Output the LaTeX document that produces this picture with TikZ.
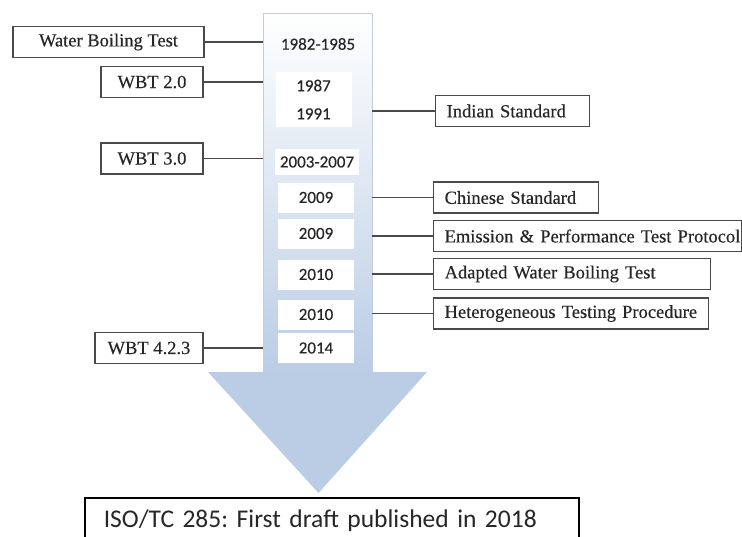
\documentclass[tikz,border=0pt]{standalone}
\usepackage{fontspec}
\setmainfont{Liberation Serif}
\newfontfamily\tnr[FakeBold=0.4]{Liberation Serif}
\newfontfamily\carlito{Carlito}
\newfontfamily\carlitoyr[FakeBold=0.3]{Carlito}
\definecolor{arrowblue}{HTML}{BACDE5}
\definecolor{edgegray}{HTML}{C3CEDC}
\definecolor{linegray}{HTML}{4A4A4A}
\begin{document}
\frenchspacing
\begin{tikzpicture}[x=1pt, y=-1pt,
		std/.style={draw=linegray, line width=1.3pt, font=\tnr\fontsize{18.5}{20}\selectfont, minimum height=31pt, inner sep=0pt, text=black!85},
		stdl/.style={std, anchor=west, align=left, inner xsep=11pt},
		year/.style={fill=white, minimum width=76pt, minimum height=30pt, inner sep=0pt, font=\carlitoyr\fontsize{17}{28}\selectfont, text=black!85},
		link/.style={draw=linegray, line width=1.6pt}]
		\useasboundingbox (0,0) rectangle (742,536);
		\clip (0,0) rectangle (742,536);

		% the big arrow
		\shade[top color=white, bottom color=arrowblue] (263,13) rectangle (372,373);
		\fill[arrowblue] (208,372) -- (427,372) -- (318.5,493) -- cycle;
		\draw[edgegray, line width=0.8pt] (263,372) -- (263,13) -- (372,13) -- (372,372);
		\coordinate (sl) at (263,0);
		\coordinate (sr) at (372,0);

		% years
		\node[year, fill=none] (y1982) at (318,44) {1982-1985};
		\node[year, minimum height=55pt, align=center] (y1987) at (313.5,99.5) {1987\\1991};
		\node[year, minimum width=84pt, minimum height=26pt] (y2003) at (317,162) {2003-2007};
		\node[year] (y2009a) at (316,197.5) {2009};
		\node[year] (y2009b) at (316,233.5) {2009};
		\node[year] (y2010a) at (316,274.5) {2010};
		\node[year] (y2010b) at (316,314.5) {2010};
		\node[year] (y2014) at (316,348) {2014};

		% left side
		\node[std, minimum width=191pt] (wbt) at (108.5,42) {Water Boiling Test};
		\node[std, minimum width=102pt] (wbt2) at (152,82) {WBT 2.0};
		\node[std, minimum width=102pt] (wbt3) at (152,158.5) {WBT 3.0};
		\node[std, minimum width=108pt] (wbt4) at (149,348) {WBT 4.2.3};

		\draw[link] (wbt.east) -- (wbt.east -| sl);
		\draw[link] (wbt2.east) -- (wbt2.east -| sl);
		\draw[link] (wbt3.east) -- (wbt3.east -| sl);
		\draw[link] (wbt4.east) -- (wbt4.east -| sl);

		% right side
		\node[stdl, text width=132pt] (ind) at (435,111) {\mbox{Indian Standard}};
		\node[stdl, text width=143pt] (chn) at (433,197.5) {\mbox{Chinese Standard}};
		\node[stdl, text width=286pt] (epp) at (433,236) {\mbox{Emission \& Performance Test Protocol}};
		\node[stdl, text width=255pt] (awbt) at (433,274) {\mbox{Adapted Water Boiling Test}};
		\node[stdl, text width=253pt] (htp) at (433,313.5) {\mbox{Heterogeneous Testing Procedure}};

		\draw[link] (ind.west) -- (ind.west -| sr);
		\draw[link] (chn.west) -- (chn.west -| sr);
		\draw[link] (epp.west) -- (epp.west -| sr);
		\draw[link] (awbt.west) -- (awbt.west -| sr);
		\draw[link] (htp.west) -- (htp.west -| sr);

		% bottom
		\node[draw=black, line width=1.5pt, anchor=north west, minimum width=494pt, minimum height=46pt, text width=456pt, inner xsep=19pt, align=left, font=\carlito\fontsize{25.5}{30}\selectfont, text=black!85] (iso) at (84,497) {\mbox{ISO/TC 285: First draft published in 2018}};
	\end{tikzpicture}
\end{document}
